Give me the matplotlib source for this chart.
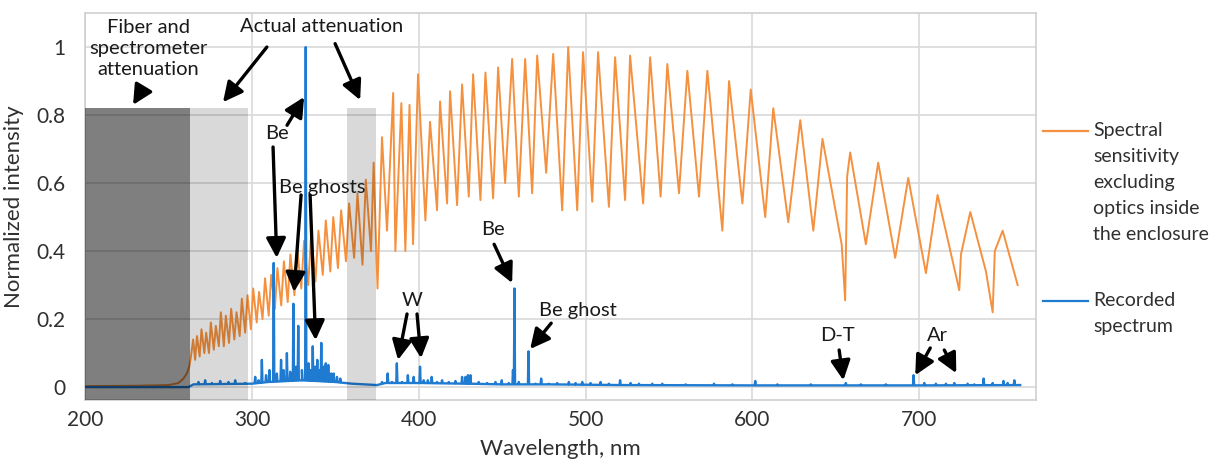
import numpy as np
import matplotlib.pyplot as plt
from matplotlib.lines import Line2D

plt.rcParams['font.family'] = ['Lato', 'DejaVu Sans']

sens_wl = [200, 230, 250, 256, 259, 261, 262.5, 263.5,
           264.8, 266.0, 267.1, 268.7, 269.8, 271.5, 272.6, 274.3, 275.4, 277.2,
           278.4, 280.2, 281.4, 283.2, 284.4, 286.3, 287.6, 289.5, 290.8, 292.7,
           294.0, 296.0, 297.4, 299.4, 300.8, 302.9, 304.3, 306.4, 307.9, 310.1,
           311.6, 313.8, 315.3, 317.6, 319.2, 321.5, 323.1, 325.5, 327.1, 329.6,
           331.3, 333.8, 335.5, 338.1, 339.9, 342.5, 344.3, 347.0, 348.8, 351.6,
           353.5, 356.4, 358.3, 361.3, 363.3, 366.3, 368.3, 371.4, 373.0, 375.3,
           378.0, 381.0, 384.7, 386.0, 389.6, 392.0, 394.5, 396.6, 399.6, 404.0,
           406.8, 411.0, 412.8, 417.0, 418.8, 423.0, 426.0, 430.0, 432.6, 437.0,
           440.0, 444.6, 447.6, 451.8, 456.0, 460.0, 463.8, 468.0, 471.0, 476.4,
           480.6, 486.0, 489.6, 495.0, 498.5, 504.0, 507.5, 514.0, 517.7, 523.7,
           526.7, 534.5, 538.7, 545.0, 549.0, 556.0, 561.0, 568.0, 573.0, 582.0,
           586.0, 594.0, 599.0, 607.7, 612.5, 621.5, 628.7, 636.5, 642.0, 653.5,
           655.6, 656.8, 658.6, 668.0, 675.4, 685.6, 693.4, 704.0, 711.0, 724.0,
           725.0, 730.6, 740.0, 744.0, 745.3, 750.0, 759.0]
sens_val = [0.003, 0.004, 0.006, 0.012, 0.025, 0.04, 0.06, 0.09,
            0.14, 0.08, 0.15, 0.09, 0.17, 0.10, 0.16, 0.10, 0.19, 0.11,
            0.18, 0.12, 0.22, 0.12, 0.21, 0.13, 0.23, 0.14, 0.22, 0.15,
            0.26, 0.16, 0.27, 0.17, 0.29, 0.19, 0.28, 0.20, 0.32, 0.21,
            0.33, 0.23, 0.35, 0.24, 0.37, 0.25, 0.39, 0.27, 0.41, 0.29,
            0.43, 0.30, 0.45, 0.31, 0.46, 0.33, 0.49, 0.34, 0.50, 0.35,
            0.52, 0.37, 0.54, 0.38, 0.57, 0.36, 0.61, 0.40, 0.66, 0.29,
            0.735, 0.46, 0.865, 0.40, 0.835, 0.40, 0.83, 0.42, 0.92, 0.49,
            0.78, 0.52, 0.84, 0.54, 0.87, 0.535, 0.89, 0.56, 0.92, 0.55,
            0.925, 0.555, 0.94, 0.60, 0.965, 0.56, 0.965, 0.57, 0.975, 0.63,
            0.98, 0.52, 1.00, 0.52, 0.985, 0.545, 0.985, 0.53, 0.97, 0.55,
            0.975, 0.54, 0.97, 0.56, 0.95, 0.57, 0.93, 0.56, 0.93, 0.46,
            0.90, 0.54, 0.875, 0.50, 0.82, 0.485, 0.785, 0.46, 0.73, 0.42,
            0.255, 0.62, 0.69, 0.42, 0.66, 0.38, 0.615, 0.335, 0.565, 0.285,
            0.39, 0.515, 0.34, 0.22, 0.40, 0.46, 0.30]

# recorded spectrum (blue): slowly varying baseline + emission lines
base_wl = [200, 262, 265, 300, 310, 330, 350, 360, 375, 380, 400, 430, 450, 480, 520, 600, 700, 760.5]
base_val = [0.0, 0.0, 0.008, 0.01, 0.015, 0.02, 0.015, 0.01, 0.006, 0.012, 0.012, 0.01, 0.008, 0.008, 0.006, 0.005, 0.005, 0.006]

line_wl = [268, 272, 276, 281, 286, 290, 296,
           302, 304, 306, 308.5, 310.5, 313.1, 315, 317.5, 319, 321, 323, 324.9, 326.5,
           327.8, 330, 332.3, 334, 335.2, 336.5, 338, 339.2, 340.3, 341.6, 343, 344.3,
           345.8, 347.5, 349, 351, 353, 356,
           378, 381.4, 384, 386.9, 390, 393.5, 397, 400.8, 403, 405.5, 407.8, 411, 414,
           418, 422, 426, 428, 429.5, 431, 436, 441, 446, 449.8, 454, 456.5, 457.4, 460,
           465.8, 470, 473.4, 478, 483, 490, 494, 498, 503, 509, 514, 520.7, 527, 532,
           540, 546, 560, 577, 588, 601.7, 615, 635, 656, 665, 680, 696.6, 703, 710, 716,
           721, 729, 733, 738.6, 744, 750.5, 753, 757]
line_h = [0.015, 0.02, 0.012, 0.018, 0.015, 0.02, 0.012,
          0.03, 0.02, 0.08, 0.035, 0.05, 0.365, 0.04, 0.08, 0.05, 0.10, 0.045, 0.245, 0.06,
          0.18, 0.05, 1.0, 0.07, 0.05, 0.12, 0.06, 0.08, 0.05, 0.13, 0.06, 0.07,
          0.065, 0.04, 0.04, 0.03, 0.025, 0.012,
          0.015, 0.04, 0.015, 0.07, 0.015, 0.035, 0.03, 0.06, 0.02, 0.02, 0.03, 0.015, 0.02,
          0.015, 0.018, 0.03, 0.03, 0.035, 0.035, 0.015, 0.012, 0.015, 0.02, 0.012, 0.05, 0.29, 0.015,
          0.105, 0.01, 0.025, 0.01, 0.012, 0.015, 0.012, 0.015, 0.012, 0.015, 0.01, 0.02, 0.012, 0.01,
          0.01, 0.01, 0.008, 0.01, 0.008, 0.018, 0.008, 0.008, 0.012, 0.008, 0.008, 0.035, 0.012, 0.01, 0.01,
          0.012, 0.01, 0.008, 0.025, 0.012, 0.018, 0.012, 0.02]

# shaded attenuation regions (nm) and their top
dark_band = (200, 263)
light_bands = [(263, 297.7), (357, 374.5)]
band_top = 0.82

# build blue trace: baseline vertices plus a narrow triangle per line
hw = 0.35
bx = list(base_wl)
by = list(base_val)
for wl, h in zip(line_wl, line_h):
    for dx, val in ((-hw, None), (0, h), (hw, None)):
        x = wl + dx
        bx.append(x)
        by.append(np.interp(x, base_wl, base_val) if val is None else val)
order = np.argsort(bx)
bx = np.array(bx)[order]
by = np.array(by)[order]

fig = plt.figure(figsize=(12.18, 4.66), dpi=100)
ax = fig.add_axes([0.0698, 0.1416, 0.7808, 0.8304])

orange = '#f5913e'
blue = '#1f7bd1'
ax.plot(sens_wl, sens_val, color=orange, lw=1.4, zorder=2)
ax.plot(bx, by, color=blue, lw=1.7, zorder=3)

ax.axvspan(*dark_band, ymin=0, ymax=(band_top + 0.038) / 1.138, color='black', alpha=0.5, lw=0, zorder=4)
for a, b in light_bands:
    ax.axvspan(a, b, ymin=0, ymax=(band_top + 0.038) / 1.138, color='black', alpha=0.15, lw=0, zorder=4)

ax.set_xlim(200, 770)
ax.set_ylim(-0.038, 1.1)
ax.set_xticks([200, 300, 400, 500, 600, 700])
ax.set_yticks([0, 0.2, 0.4, 0.6, 0.8, 1.0])
ax.set_yticklabels(['0', '0.2', '0.4', '0.6', '0.8', '1'])
ax.tick_params(length=0, labelsize=15, colors='#303030')
ax.tick_params(axis='y', pad=14)
ax.tick_params(axis='x', pad=7)
ax.grid(True, color='#d9d9d9', lw=1.2)
ax.set_axisbelow(True)
for s in ax.spines.values():
    s.set_color('#cfcfcf')
    s.set_linewidth(1.2)

ax.set_xlabel('Wavelength, nm', fontsize=16, color='#303030', labelpad=7)
ax.set_ylabel('Normalized intensity', fontsize=16, color='#303030', labelpad=9)

# annotations
txt = dict(fontsize=14.5, color='#1a1a1a', ha='center', va='center', zorder=6)
arr = dict(arrowstyle='-|>,head_length=0.7,head_width=0.35', lw=2.4, color='black',
           shrinkA=0, shrinkB=0, mutation_scale=17)

def arrow(tail, head):
    ax.annotate('', xy=head, xytext=tail, arrowprops=arr, zorder=6)

ax.text(237.8, 0.995, 'Fiber and\nspectrometer\nattenuation', linespacing=1.3, **txt)
arrow((234.2, 0.874), (228.8, 0.83))
ax.text(342, 1.06, 'Actual attenuation', **txt)
arrow((309, 1.0), (282.7, 0.838))
arrow((349.9, 1.01), (364.9, 0.844))
ax.text(315.1, 0.747, 'Be', **txt)
arrow((321.1, 0.77), (331.3, 0.853))
arrow((312.7, 0.706), (314.9, 0.38))
ax.text(342, 0.588, 'Be ghosts', **txt)
arrow((329.5, 0.565), (325.3, 0.28))
arrow((334.9, 0.565), (338.2, 0.138))
ax.text(444.6, 0.462, 'Be', **txt)
arrow((445.2, 0.42), (456, 0.306))
ax.text(495.6, 0.226, 'Be ghost', **txt)
arrow((479.4, 0.188), (466.8, 0.112))
ax.text(396, 0.256, 'W', **txt)
arrow((393, 0.215), (387.6, 0.08))
arrow((399, 0.215), (401.4, 0.085))
ax.text(650.8, 0.153, 'D-T', **txt)
arrow((652, 0.109), (654.5, 0.02))
ax.text(710.8, 0.153, 'Ar', **txt)
arrow((706.6, 0.115), (697.6, 0.035))
arrow((715, 0.109), (722.2, 0.041))

# legend on the right
W, H = 1218, 466
fig.add_artist(Line2D([1043 / W, 1088 / W], [1 - 131 / H] * 2, color=orange, lw=1.6))
fig.add_artist(Line2D([1043 / W, 1088 / W], [1 - 301 / H] * 2, color=blue, lw=1.6))
fig.text(1093 / W, 1 - 122 / H, 'Spectral\nsensitivity\nexcluding\noptics inside\nthe enclosure',
         fontsize=14, color='#303030', va='top', ha='left', linespacing=1.65)
fig.text(1093 / W, 1 - 292 / H, 'Recorded\nspectrum',
         fontsize=14, color='#303030', va='top', ha='left', linespacing=1.65)

fig.savefig('out.png', dpi=100)
